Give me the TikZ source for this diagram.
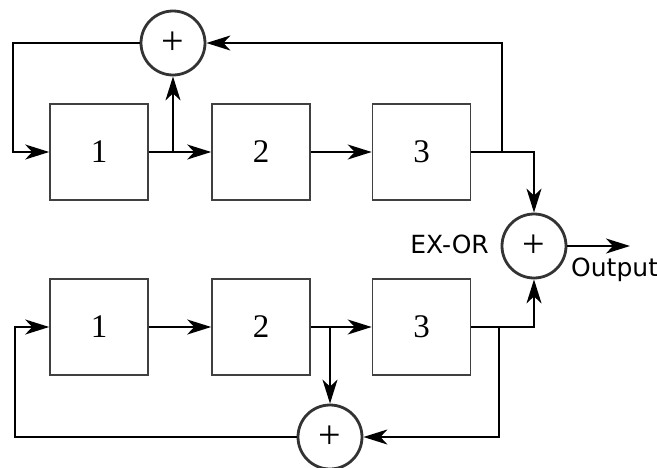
\documentclass[tikz,border=0pt]{standalone}
\usepackage{fontspec}
\setmainfont{Liberation Serif}
\newfontfamily\labfont{DejaVu Sans}
\usetikzlibrary{arrows.meta}
\begin{document}
\begin{tikzpicture}[x=1pt,y=-1pt,
  reg/.style={draw=black!75,line width=1.6pt,minimum width=98pt,minimum height=96pt,inner sep=0pt,font=\fontsize{33}{33}\selectfont},
  xorn/.style={circle,draw=black!80,line width=2.8pt,minimum size=64pt,inner sep=0pt,font=\fontsize{40}{40}\selectfont},
  conn/.style={line width=1.8pt,-{Stealth[length=24pt,width=15pt,inset=7pt]}},
  lab/.style={font=\labfont\fontsize{25}{25}\selectfont,inner sep=0pt}]
\useasboundingbox (0,0) rectangle (657,467);
% top row
\node[reg] (a1) at (99,152) {1};
\node[reg] (a2) at (261,152) {2};
\node[reg] (a3) at (421.5,152) {3};
\node[xorn] (ca) at (173,43) {+};
% bottom row
\node[reg] (b1) at (99,327) {1};
\node[reg] (b2) at (261,327) {2};
\node[reg] (b3) at (421.5,327) {3};
\node[xorn] (cb) at (330,437) {+};
% ex-or
\node[xorn] (x) at (534,246) {+};
\node[lab,anchor=base east] (exl) at (489,253) {EX-OR};
\coordinate (out) at (630,246);
\node[lab,anchor=base west] (outl) at (571,276) {Output};
% top connections
\coordinate (ta) at (ca.south |- a1.east);
\coordinate (tb) at (502,152);
\draw[conn] (a1.east) -- (a2.west);
\draw[conn] (ta) -- (ca.south);
\draw[conn] (a2.east) -- (a3.west);
\draw[conn] (a3.east) -| (x.north);
\draw[conn] (tb) |- (ca.east);
\draw[conn] (ca.west) -| (13,152) -- (a1.west);
% bottom connections
\coordinate (ba) at (cb.north |- b2.east);
\coordinate (bb) at (499,327);
\draw[conn] (b1.east) -- (b2.west);
\draw[conn] (b2.east) -- (b3.west);
\draw[conn] (ba) -- (cb.north);
\draw[conn] (b3.east) -| (x.south);
\draw[conn] (bb) |- (cb.east);
\draw[conn] (cb.west) -| (15,327) -- (b1.west);
% output
\draw[conn] (x.east) -- (out);
\end{tikzpicture}
\end{document}
